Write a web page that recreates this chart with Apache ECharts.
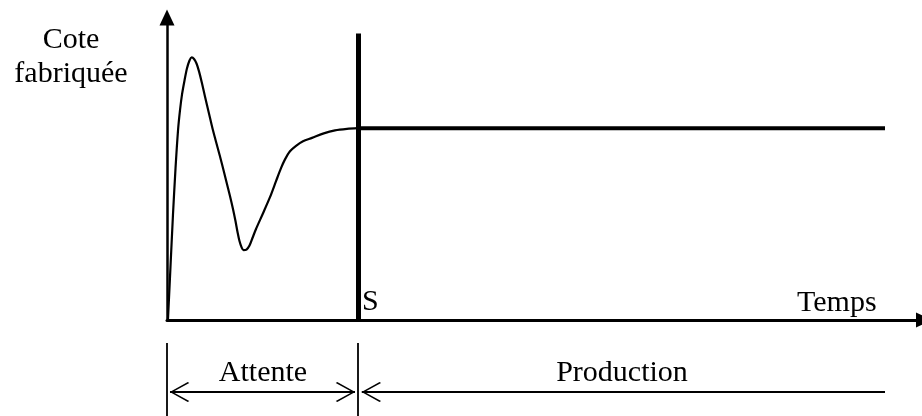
<!DOCTYPE html>
<html>
<head>
<meta charset="utf-8">
<script src="https://cdn.jsdelivr.net/npm/echarts@6/dist/echarts.min.js"></script>
<style>
  html, body { margin: 0; padding: 0; background: #fff; }
  #chart { width: 922px; height: 416px; }
</style>
</head>
<body>
<div id="chart"></div>
<script>
// courbe de mise en régime
const temps = [0.13, 0.46, 0.79, 1.13, 1.46, 1.72, 1.99, 2.32, 2.65, 2.98, 3.27, 3.58, 3.91, 4.24, 4.64,
  5.03, 5.56, 6.09, 6.69, 7.28, 7.81, 8.34, 8.74, 9.07, 9.34, 9.60, 9.87, 10.13, 10.53, 10.93, 11.32,
  11.79, 12.72, 13.64, 14.44, 15.10, 15.63, 16.29, 17.09, 18.01, 19.21, 20.66, 22.25, 23.84, 25.30];
const cote = [0.3, 17.5, 34.7, 50.2, 62.7, 69.3, 74.6, 79.2, 83.2, 85.8, 86.8, 86.3, 84.8, 82.2, 78.2,
  73.9, 68.3, 62.7, 57.1, 51.6, 46.3, 41.0, 36.7, 32.7, 29.1, 26.1, 24.1, 23.1, 23.3, 24.6, 27.1,
  30.1, 35.3, 40.6, 45.9, 50.2, 53.1, 55.8, 57.6, 59.1, 60.2, 61.6, 62.7, 63.2, 63.4];

const instantS = 25.3;      // début de la production
const hautTraitS = 94.7;
const coteStable = 63.4;
const finProduction = 95.1;

// cotes sous l'axe des temps
const attente = [0.4, 24.9];
const production = [25.8, 95.1];
const niveauCotes = 3.3;

const police = "'Liberation Serif', 'Times New Roman', serif";
const noir = '#000';

// chevron ouvert, centré sur la pointe
const chevron = 'path://M-9.25,-19L-9.25,-19ZM29.25,19.5L29.25,19.5ZM10,0L20,18L19,19.5L10,3L1,19.5L0,18Z';

let myChart = echarts.init(document.getElementById('chart'), null, { renderer: 'canvas' });

const hiddenAxis = {
  axisLine: { show: false },
  axisTick: { show: false },
  axisLabel: { show: false },
  splitLine: { show: false }
};

function texte(txt, x, y, align) {
  return {
    type: 'text',
    x: x,
    y: y,
    silent: true,
    style: {
      text: txt,
      font: '30px ' + police,
      fill: noir,
      align: align,
      textAlign: align,
      verticalAlign: 'middle',
      textVerticalAlign: 'middle',
      lineHeight: 34
    }
  };
}

let option = {
  animation: false,
  backgroundColor: '#fff',
  grid: [
    { left: 167, right: 0, top: 17.5, bottom: 96 },
    { left: 167, right: 0, top: 343, bottom: 0 }
  ],
  xAxis: [
    {
      type: 'value', gridIndex: 0, min: 0, max: 100,
      axisLine: {
        show: true, symbol: ['none', 'triangle'], symbolSize: [15, 16], symbolOffset: [0, 2],
        lineStyle: { color: noir, width: 3 }
      },
      axisTick: { show: false }, axisLabel: { show: false }, splitLine: { show: false }
    },
    Object.assign({ type: 'value', gridIndex: 1, min: 0, max: 100 }, hiddenAxis)
  ],
  yAxis: [
    {
      type: 'value', gridIndex: 0, min: 0, max: 100,
      axisLine: {
        show: true, symbol: ['none', 'triangle'], symbolSize: [15, 16],
        lineStyle: { color: noir, width: 2.5 }
      },
      axisTick: { show: false }, axisLabel: { show: false }, splitLine: { show: false }
    },
    Object.assign({ type: 'value', gridIndex: 1, min: 0, max: 10 }, hiddenAxis)
  ],
  series: [
    {
      type: 'line',
      xAxisIndex: 0, yAxisIndex: 0,
      data: temps.map((t, i) => [t, cote[i]]),
      smooth: 0.3,
      showSymbol: false,
      silent: true,
      lineStyle: { color: noir, width: 2.2 },
      markLine: {
        silent: true,
        symbol: ['none', 'none'],
        label: { show: false },
        lineStyle: { color: noir, width: 5, type: 'solid' },
        data: [[{ coord: [instantS, 0] }, { coord: [instantS, hautTraitS] }]]
      }
    },
    {
      type: 'line',
      xAxisIndex: 0, yAxisIndex: 0,
      data: [[instantS, coteStable], [finProduction, coteStable]],
      showSymbol: false,
      silent: true,
      lineStyle: { color: noir, width: 4 }
    },
    {
      type: 'line',
      xAxisIndex: 1, yAxisIndex: 1,
      data: [],
      markLine: {
        silent: true,
        symbol: ['none', 'none'],
        label: { show: false },
        lineStyle: { color: noir, width: 1.8, type: 'solid' },
        data: [
          { xAxis: 0, symbol: 'none' },
          { xAxis: instantS, symbol: 'none' },
          [
            { coord: [attente[0], niveauCotes], symbol: chevron, symbolSize: 38.5 },
            { coord: [attente[1], niveauCotes], symbol: chevron, symbolSize: 38.5 }
          ],
          [
            { coord: [production[0], niveauCotes], symbol: chevron, symbolSize: 38.5 },
            { coord: [production[1], niveauCotes], symbol: 'none' }
          ]
        ]
      }
    }
  ],
  graphic: [
    texte('Cote\nfabriquée', 71, 57, 'center'),
    texte('S', 362, 302, 'left'),
    texte('Temps', 797, 303, 'left'),
    texte('Attente', 263, 373, 'center'),
    texte('Production', 622, 373, 'center')
  ]
};

myChart.setOption(option);
</script>
</body>
</html>
